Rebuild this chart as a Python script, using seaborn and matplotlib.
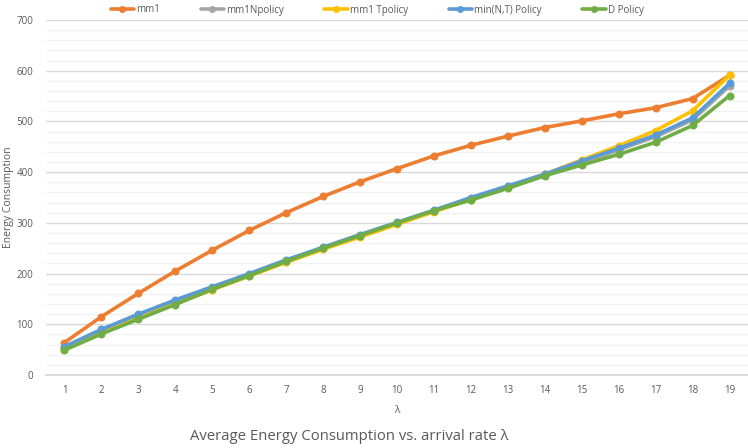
import matplotlib
matplotlib.use("Agg")
import matplotlib.pyplot as plt
import seaborn as sns
import pandas as pd
from matplotlib.ticker import MultipleLocator
from matplotlib.lines import Line2D

lam = list(range(1, 20))
mm1 = [64, 115, 161, 205, 246, 285, 320, 352, 381, 407, 432, 453, 471, 488, 501, 515, 527, 545, 591]
mm1_n = [54, 86, 116, 144, 171, 198, 225, 250, 275, 299, 323, 347, 370, 394, 418, 444, 470, 503, 570]
mm1_t = [52, 82, 112, 140, 168, 195, 222, 248, 272, 297, 322, 346, 371, 396, 424, 452, 482, 521, 591]
min_nt = [56, 90, 120, 148, 174, 200, 227, 252, 277, 301, 325, 350, 373, 396, 422, 447, 473, 507, 575]
d_pol = [49, 81, 110, 139, 169, 196, 224, 250, 275, 300, 324, 345, 368, 393, 414, 435, 459, 492, 551]

names = ["mm1", "mm1Npolicy", "mm1 Tpolicy", "min(N,T) Policy", "D Policy"]
series = [mm1, mm1_n, mm1_t, min_nt, d_pol]
colors = ["#ED7D31", "#A5A5A5", "#FFC000", "#5B9BD5", "#70AD47"]

df = pd.concat([pd.DataFrame({"lam": lam, "val": s, "series": n}) for n, s in zip(names, series)])

sns.set_theme(style="white")
plt.rcParams["font.family"] = ["Open Sans", "DejaVu Sans"]

fig = plt.figure(figsize=(7.48, 4.48), dpi=100)
ax = fig.add_axes([46 / 748, 1 - 375 / 448, 702 / 748, 355 / 448])

for n, c in zip(names, colors):
    sns.lineplot(data=df[df["series"] == n], x="lam", y="val", color=c, linewidth=2.6,
                 marker="o", markersize=5, markeredgecolor=c, ax=ax, legend=False, zorder=3)

ax.set_xlim(0.5, 19.5)
ax.set_ylim(0, 700)
ax.set_xticks(lam)
ax.yaxis.set_major_locator(MultipleLocator(100))
ax.yaxis.set_minor_locator(MultipleLocator(20))
ax.grid(which="major", axis="y", color="#D9D9D9", linewidth=1)
ax.grid(which="minor", axis="y", color="#F2F2F2", linewidth=1)
ax.grid(axis="x", visible=False)
ax.set_axisbelow(True)
for s in ["top", "right", "left"]:
    ax.spines[s].set_visible(False)
ax.spines["bottom"].set_color("#D9D9D9")
ax.tick_params(axis="both", which="both", length=0, labelsize=7, colors="#595959")
ax.tick_params(axis="y", pad=9)
ax.tick_params(axis="x", pad=7)
ax.set_xlabel("λ", fontsize=7.5, color="#595959", labelpad=7)
ax.set_ylabel("Energy Consumption", fontsize=7.5, color="#595959")
ax.yaxis.set_label_coords(-0.045, 0.5)

handles = [Line2D([0], [0], color=c, linewidth=2.6, marker="o", markersize=4) for c in colors]
fig.legend(handles, names, loc="center", bbox_to_anchor=(377 / 748, 1 - 10 / 448), ncol=5,
           frameon=False, fontsize=7, handlelength=2.4, handletextpad=0.2, columnspacing=4.2,
           labelcolor="#595959")

fig.text(349 / 748, 1 - 436 / 448, "Average Energy Consumption vs. arrival rate λ", ha="center", va="center",
         fontsize=10.7, color="#595959")

fig.savefig("out.png", dpi=100)
